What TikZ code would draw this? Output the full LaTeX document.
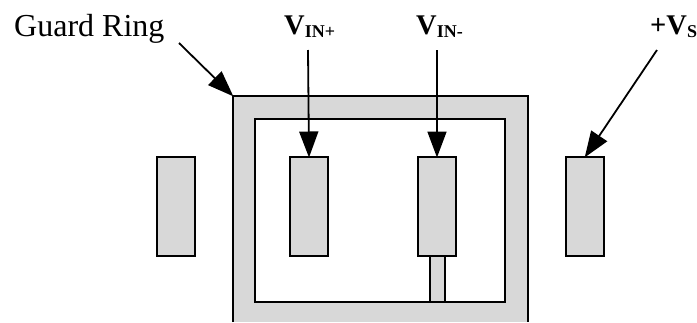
\documentclass[tikz,border=0pt]{standalone}
\usepackage{fontspec}
\setmainfont{Liberation Serif}
\usetikzlibrary{arrows.meta}
\definecolor{padgray}{HTML}{D8D8D8}
\tikzset{
  x=1pt,y=-1pt,
  pad/.style={draw=black,fill=padgray,line width=1.8pt,minimum width=38pt,minimum height=99pt,inner sep=0pt,outer sep=0pt,anchor=north west},
  stub/.style={draw=black,fill=padgray,line width=1.8pt,minimum width=15pt,minimum height=46pt,inner sep=0pt,outer sep=0pt,anchor=north west},
  hollow/.style={draw=black,fill=white,line width=1.8pt,minimum width=250pt,minimum height=183pt,inner sep=0pt,outer sep=0pt,anchor=north west},
  ringbox/.style={fill=padgray,minimum width=295pt,minimum height=226pt,inner sep=0pt,outer sep=0pt,anchor=north west},
  lead/.style={line width=1.8pt,shorten >=-0.5pt,-{Triangle[length=26pt,width=19pt]}},
  lbl/.style={inner sep=0pt,anchor=base west,text=black}
}
\newcommand{\vlab}[2]{{\fontsize{28.5}{28.5}\selectfont\bfseries #1}{\fontsize{18}{18}\selectfont\bfseries\raisebox{-3.5pt}{#2}}}
\begin{document}
\begin{tikzpicture}
\useasboundingbox (0,0) rectangle (697,322);
\node[ringbox] (ring) at (233,96) {};
\draw[line width=1.8pt] (ring.south west) -- (ring.north west) -- (ring.north east) -- (ring.south east);
\node[hollow] (inner) at (255,119) {};
\node[pad] (p1) at (157,157) {};
\node[pad] (p2) at (290,157) {};
\node[pad] (p3) at (418,157) {};
\node[pad] (p4) at (566,157) {};
\node[stub] (st) at (430,256) {};
\node[lbl,font=\fontsize{32}{32}\selectfont] (gr) at (14,36) {Guard Ring};
\node[lbl] (vp) at (284,34) {\vlab{V}{IN+}};
\node[lbl] (vm) at (416,34) {\vlab{V}{IN-}};
\node[lbl] (vs) at (650,34) {\vlab{+V}{S}};
\coordinate (a) at (179,43);
\coordinate (b) at (308,50);
\coordinate (c) at (437,50);
\coordinate (d) at (657,50);
\draw[lead] (a) -- (ring.north west);
\draw[lead] (b) -- (p2.north);
\draw[lead] (c) -- (p3.north);
\draw[lead] (d) -- (p4.north);
\end{tikzpicture}
\end{document}
